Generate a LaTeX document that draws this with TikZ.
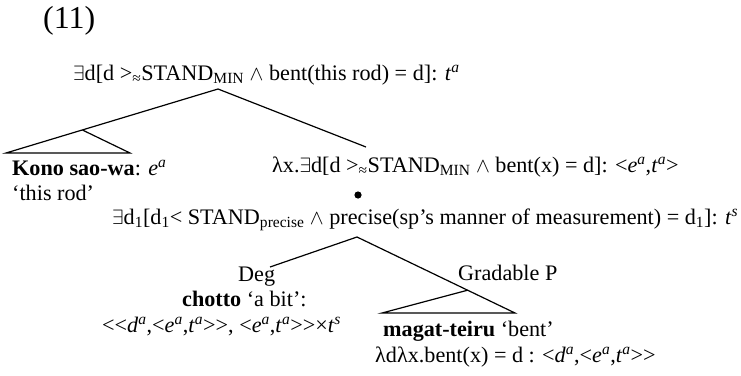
\documentclass[tikz,border=0pt]{standalone}
\usepackage{fontspec}
\setmainfont{Liberation Serif}
\usetikzlibrary{calc}
\newcommand{\tp}[2]{\textit{#1}\textsuperscript{\textit{#2}}}
\newcommand{\exq}{$\exists$}
\newcommand{\wdg}{$\wedge$}
\newcommand{\roottext}{\exq d[d >\textsubscript{≈}STAND\textsubscript{MIN} \wdg{} bent(this rod) = d]: \tp{t}{a}}
\newcommand{\prectext}{\exq d\textsubscript{1}[d\textsubscript{1}< STAND\textsubscript{precise} \wdg{} precise(sp’s manner of measurement) = d\textsubscript{1}]: \tp{t}{s}}
\newlength\wroot
\newlength\wprec
\newlength\wnum
\AtBeginDocument{%
  \sbox0{\fontsize{20}{24}\selectfont\roottext}\global\wroot=\wd0
  \sbox0{\fontsize{20}{24}\selectfont\prectext}\global\wprec=\wd0
  \sbox0{\fontsize{30}{34}\selectfont (11)}\global\wnum=\wd0
}
\tikzset{
  lbl/.style={inner sep=0pt, anchor=base west, font=\fontsize{\fs}{\fs}\selectfont},
  br/.style={line width=1.2pt, line join=miter},
}
\begin{document}
\begin{tikzpicture}[x=1pt,y=-1pt]
\pgfmathsetmacro\fs{10*395/\wroot + 10*620/\wprec}
\pgfmathsetmacro\fn{30*52/\wnum}
\useasboundingbox (0,0) rectangle (741,375);
\node[lbl, font=\fontsize{\fn}{\fn}\selectfont] (num) at (43,28) {(11)};
\node[lbl] (root) at (73,80) {\roottext};
\node[lbl] (kono) at (12,175) {\textbf{Kono sao-wa}: \tp{e}{a}};
\node[lbl] (rod) at (12,200) {‘this rod’};
\node[lbl] (lam) at (272,172) {λx.\exq d[d >\textsubscript{≈}STAND\textsubscript{MIN} \wdg{} bent(x) = d]: <\tp{e}{a},\tp{t}{a}>};
\node[lbl] (prec) at (112,224) {\prectext};
\node[lbl] (deg) at (238,281) {Deg};
\node[lbl] (chot) at (182,306) {\textbf{chotto} ‘a bit’:};
\node[lbl] (ctype) at (102,332) {<{}<\tp{d}{a},<\tp{e}{a},\tp{t}{a}>{}>, <\tp{e}{a},\tp{t}{a}>{}>×\tp{t}{s}};
\node[lbl] (grad) at (458,280) {Gradable P};
\node[lbl] (mag) at (383,336) {\textbf{magat-teiru} ‘bent’};
\node[lbl] (mtype) at (375,362) {λdλx.bent(x) = d : <\tp{d}{a},<\tp{e}{a},\tp{t}{a}>{}>};
% tree coordinates
\coordinate (rt) at (218,89);
\coordinate (tl) at (6,153);
\coordinate (tr) at (130,153);
\coordinate (rr) at (366,147);
\coordinate (pt) at (357,237);
\coordinate (dg) at (270,267);
\coordinate (gr) at (515,313);
\coordinate (gl) at (382,313);
\draw[br] (rt) -- (tl) -- (tr) -- ($(rt)!0.64!(tl)$);
\draw[br] (rt) -- (rr);
\fill (358,195) circle (3.6pt);
\draw[br] (pt) -- (dg);
\draw[br] (pt) -- (gr) -- (gl) -- ($(pt)!0.70!(gr)$);
\end{tikzpicture}
\end{document}
